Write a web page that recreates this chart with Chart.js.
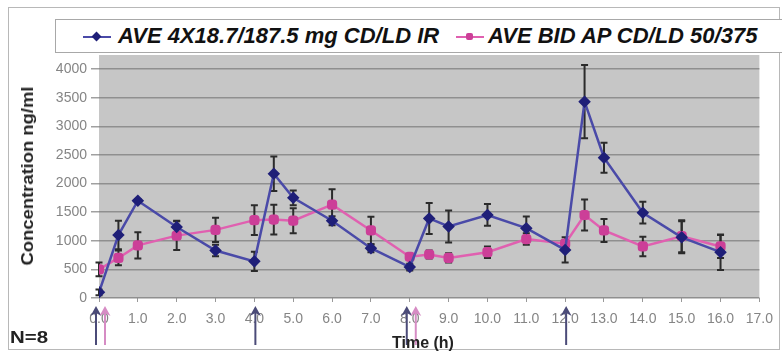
<!DOCTYPE html>
<html>
<head>
<meta charset="utf-8">
<script src="https://cdn.jsdelivr.net/npm/chart.js@4.4.1/dist/chart.umd.min.js"></script>
<style>
  body { margin: 0; background: #fff; }
  #wrap { position: relative; width: 782px; height: 352px; overflow: hidden; font-family: "Liberation Sans", Arial, sans-serif; }
  #pkChart { position: absolute; left: 0; top: 0; }
  .frame { position: absolute; left: 8px; top: 7px; width: 772px; height: 343px; border: 1px solid #b8b8b8; box-sizing: border-box; }
  .legend { position: absolute; left: 55px; top: 19px; width: 760px; height: 34px; border: 1px solid #a8a8a8; background: #fff; box-sizing: border-box; }
  .legend .txt { position: absolute; top: 3px; font: italic bold 22px "Liberation Sans", Arial, sans-serif; color: #111; white-space: nowrap; }
  .legend .mk { position: absolute; top: 16px; width: 28px; height: 2px; }
  .legend .dot { position: absolute; top: -3px; left: 10px; width: 7px; height: 7px; }
  .ytitle { position: absolute; left: 28px; top: 176px; transform: translate(-50%, -50%) rotate(-90deg) scaleX(1.15); font: bold 16px "Liberation Sans", Arial, sans-serif; color: #222; white-space: nowrap; }
  .xtitle { position: absolute; left: 392px; top: 334px; font: bold 16px "Liberation Sans", Arial, sans-serif; color: #222; }
  .nlabel { position: absolute; left: 10px; top: 328px; font: bold 17px "Liberation Sans", Arial, sans-serif; color: #222; transform-origin: left center; transform: scaleX(1.2); }
</style>
</head>
<body>
<div id="wrap">
  <canvas id="pkChart" width="782" height="352"></canvas>
  <div class="frame"></div>
  <div class="legend">
    <span class="mk" style="left:27px;background:#4a4aa8"><span class="dot" style="background:#1f1f78;transform:rotate(45deg)"></span></span>
    <span class="txt" style="left:62px">AVE 4X18.7/187.5 mg CD/LD IR</span>
    <span class="mk" style="left:400px;background:#e060b0"><span class="dot" style="background:#cc3f98;border-radius:2px"></span></span>
    <span class="txt" style="left:432px">AVE BID AP CD/LD 50/375</span>
  </div>
  <div class="ytitle">Concentration ng/ml</div>
  <div class="xtitle">Time (h)</div>
  <div class="nlabel">N=8</div>
</div>
<script>
// sampling times (h)
const timesIR = [0, 0.5, 1, 2, 3, 4, 4.5, 5, 6, 7, 8, 8.5, 9, 10, 11, 12, 12.5, 13, 14, 15, 16];
const timesAP = [0, 0.5, 1, 2, 3, 4, 4.5, 5, 6, 7, 8, 8.5, 9, 10, 11, 12, 12.5, 13, 14, 15, 16];

// mean concentrations (ng/ml) and error bar half-widths
const concIR = [100, 1100, 1700, 1240, 830, 640, 2170, 1750, 1350, 870, 540, 1390, 1250, 1450, 1220, 840, 3430, 2450, 1490, 1060, 800];
const errIR  = [50, 250, 30, 110, 100, 170, 300, 130, 80, 70, 60, 270, 280, 190, 205, 220, 640, 260, 190, 280, 310];
const concAP = [500, 700, 920, 1090, 1190, 1360, 1370, 1350, 1630, 1180, 720, 760, 700, 800, 1030, 950, 1450, 1180, 900, 1080, 900];
const errAP  = [120, 130, 230, 250, 210, 260, 260, 220, 270, 240, 50, 70, 80, 100, 100, 60, 270, 200, 170, 280, 200];

// dosing times (arrows under the axis)
const doseTimesIR = [0, 4, 8, 12];
const doseTimesAP = [0, 8];

const yTicks = [0, 500, 1000, 1500, 2000, 2500, 3000, 3500, 4000];

const toPoints = (xs, ys) => xs.map((x, i) => ({ x: x, y: ys[i] }));

// gray plot background
const plotBg = {
    id: 'plotBg',
    beforeDraw(chart) {
        const a = chart.chartArea;
        const ctx = chart.ctx;
        ctx.save();
        ctx.fillStyle = '#c6c6c6';
        ctx.fillRect(a.left, a.top, a.right - a.left, a.bottom - a.top);
        ctx.restore();
    }
};

// error bars drawn from each dataset's err array
const errorBars = {
    id: 'errorBars',
    beforeDatasetsDraw(chart) {
        const ctx = chart.ctx;
        const xs = chart.scales.x, ys = chart.scales.y;
        ctx.save();
        ctx.strokeStyle = '#2b2b2b';
        ctx.lineWidth = 2;
        chart.data.datasets.forEach(ds => {
            ds.data.forEach((p, i) => {
                const e = ds.err[i];
                const px = xs.getPixelForValue(p.x);
                const top = ys.getPixelForValue(p.y + e);
                const bot = ys.getPixelForValue(Math.max(0, p.y - e));
                ctx.beginPath();
                ctx.moveTo(px, top); ctx.lineTo(px, bot);
                ctx.moveTo(px - 3.5, top); ctx.lineTo(px + 3.5, top);
                ctx.moveTo(px - 3.5, bot); ctx.lineTo(px + 3.5, bot);
                ctx.stroke();
            });
        });
        ctx.restore();
    }
};

// dose arrows below the x axis
const doseArrows = {
    id: 'doseArrows',
    afterDraw(chart) {
        const ctx = chart.ctx;
        const xs = chart.scales.x;
        const drawArrow = (x, color) => {
            ctx.save();
            ctx.strokeStyle = color;
            ctx.fillStyle = color;
            ctx.lineWidth = 2;
            ctx.beginPath();
            ctx.moveTo(x, 345); ctx.lineTo(x, 312);
            ctx.stroke();
            ctx.beginPath();
            ctx.moveTo(x, 306); ctx.lineTo(x - 5.5, 316); ctx.lineTo(x, 313); ctx.lineTo(x + 5.5, 316);
            ctx.closePath();
            ctx.fill();
            ctx.restore();
        };
        doseTimesIR.forEach(t => {
            const shared = doseTimesAP.includes(t);
            drawArrow(xs.getPixelForValue(t) + (shared ? -3 : 1), '#4b4b78');
        });
        doseTimesAP.forEach(t => drawArrow(xs.getPixelForValue(t) + 6, '#d68cc4'));
    }
};

const ctx = document.getElementById('pkChart').getContext('2d');
const chart = new Chart(ctx, {
    type: 'scatter',
    data: {
        datasets: [
            {
                label: 'AVE 4X18.7/187.5 mg CD/LD IR',
                data: toPoints(timesIR, concIR),
                err: errIR,
                showLine: true,
                borderColor: '#4a4aa8',
                borderWidth: 2.5,
                pointStyle: 'rectRot',
                pointRadius: 4.5,
                pointBackgroundColor: '#1f1f78',
                pointBorderColor: '#1f1f78',
                tension: 0
            },
            {
                label: 'AVE BID AP CD/LD 50/375',
                data: toPoints(timesAP, concAP),
                err: errAP,
                showLine: true,
                borderColor: '#e060b0',
                borderWidth: 2.5,
                pointStyle: 'rectRounded',
                pointRadius: 4.5,
                pointBackgroundColor: '#cc3f98',
                pointBorderColor: '#cc3f98',
                tension: 0
            }
        ]
    },
    options: {
        responsive: false,
        animation: false,
        devicePixelRatio: 1,
        layout: { padding: { top: 55, right: 17, left: 0, bottom: 0 } },
        plugins: {
            legend: { display: false },
            tooltip: { enabled: false }
        },
        scales: {
            x: {
                type: 'linear',
                min: 0,
                max: 17,
                afterFit(scale) { scale.height = 54; },
                grid: { drawOnChartArea: false, tickLength: 4, tickColor: '#999', lineWidth: 1 },
                border: { display: false },
                ticks: {
                    stepSize: 1,
                    padding: 9,
                    color: '#858585',
                    font: { family: '"Liberation Sans", Arial, sans-serif', size: 14 },
                    maxRotation: 0,
                    autoSkip: false,
                    callback: v => v.toFixed(1)
                }
            },
            y: {
                min: 0,
                max: 4245,
                afterFit(scale) { scale.width = 99; },
                afterBuildTicks(scale) { scale.ticks = yTicks.map(v => ({ value: v })); },
                grid: { color: '#8f8f8f', lineWidth: 1.5, tickLength: 8, tickColor: '#a0a0a0' },
                border: { display: false },
                ticks: {
                    padding: 4,
                    color: '#858585',
                    font: { family: '"Liberation Sans", Arial, sans-serif', size: 14 },
                    callback: v => String(v)
                }
            }
        }
    },
    plugins: [plotBg, errorBars, doseArrows]
});
</script>
</body>
</html>
